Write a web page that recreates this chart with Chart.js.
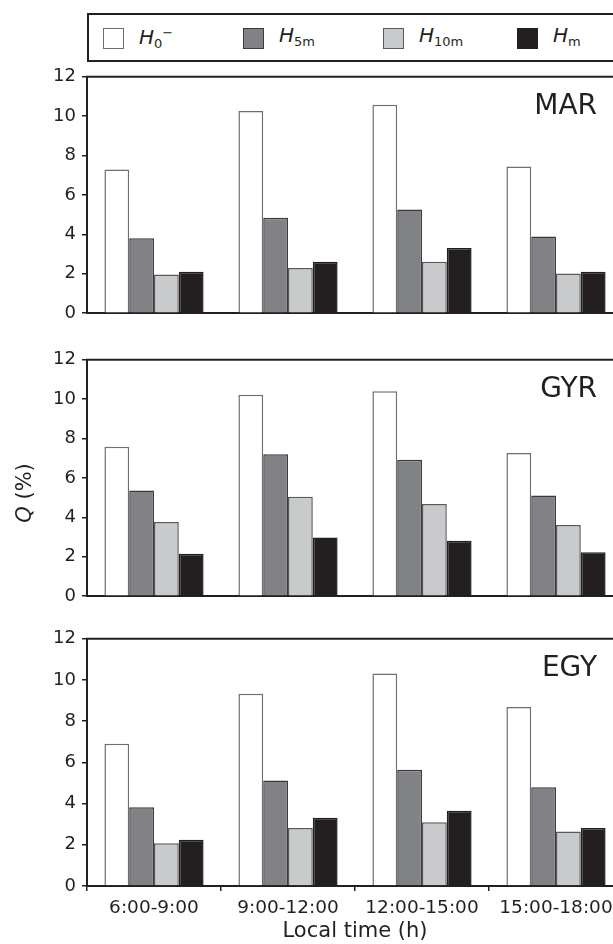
<!DOCTYPE html>
<html>
<head>
<meta charset="utf-8">
<script src="https://cdn.jsdelivr.net/npm/chart.js@4.4.0/dist/chart.umd.min.js"></script>
<style>
  html, body { margin: 0; padding: 0; width: 613px; height: 944px; overflow: hidden; background: #fff; }
  body { position: relative; font-family: "DejaVu Sans", sans-serif; color: #231f20; }
  #legend { position: absolute; left: 87px; top: 13px; width: 600px; height: 49px;
            border: 2px solid #231f20; box-sizing: border-box; }
  .item { position: absolute; top: 12px; height: 22px; display: flex; align-items: center; }
  .sw { display: inline-block; width: 21px; height: 21px; box-sizing: border-box; border: 1.5px solid #555; margin-right: 15px; }
  .lb { font-size: 20px; line-height: 22px; white-space: nowrap; }
  .lb i { font-style: italic; }
  .lb sub { font-size: 13px; vertical-align: -4px; }
  .lb sup { font-size: 13px; vertical-align: 7px; }
  canvas { position: absolute; left: 0; }
</style>
</head>
<body>
<div id="legend">
  <div class="item" style="left:14px"><span class="sw" style="background:#ffffff;border-color:#6d6e71"></span><span class="lb"><i>H</i><sub>0</sub><sup>−</sup></span></div>
  <div class="item" style="left:154px"><span class="sw" style="background:#808285;border-color:#3b3b3d"></span><span class="lb"><i>H</i><sub>5m</sub></span></div>
  <div class="item" style="left:294px"><span class="sw" style="background:#c9cacc;border-color:#58595b"></span><span class="lb"><i>H</i><sub>10m</sub></span></div>
  <div class="item" style="left:428px"><span class="sw" style="background:#231f20;border-color:#231f20"></span><span class="lb"><i>H</i><sub>m</sub></span></div>
</div>
<canvas id="c1" width="640" height="270" style="top:60px"></canvas>
<canvas id="c2" width="640" height="270" style="top:343px"></canvas>
<canvas id="c3" width="640" height="322" style="top:622px"></canvas>
<script>
// time slots
const categories = ["6:00-9:00", "9:00-12:00", "12:00-15:00", "15:00-18:00"];
const seriesLabels = ["H0-", "H5m", "H10m", "Hm"];
const yTicks = [0, 2, 4, 6, 8, 10, 12];

// MAR
const marH0 = [7.3, 10.26, 10.58, 7.45];
const marH5m = [3.8, 4.84, 5.27, 3.89];
const marH10m = [1.97, 2.29, 2.61, 2.02];
const marHm = [2.1, 2.61, 3.31, 2.1];

// GYR
const gyrH0 = [7.58, 10.22, 10.4, 7.27];
const gyrH5m = [5.37, 7.21, 6.93, 5.11];
const gyrH10m = [3.77, 5.05, 4.68, 3.61];
const gyrHm = [2.16, 2.98, 2.81, 2.23];

// EGY
const egyH0 = [6.91, 9.33, 10.31, 8.69];
const egyH5m = [3.82, 5.12, 5.64, 4.79];
const egyH10m = [2.07, 2.81, 3.1, 2.64];
const egyHm = [2.25, 3.31, 3.65, 2.81];

const fills = ["#ffffff", "#808285", "#c9cacc", "#231f20"];
const edges = ["#6d6e71", "#3b3b3d", "#58595b", "#231f20"];
const ink = "#231f20";
const FONT = "DejaVu Sans";

// top frame line, panel name and the shared y title
const panelDecor = {
  id: "panelDecor",
  afterDraw(chart, args, opts) {
    const { ctx, chartArea: a } = chart;
    ctx.save();
    ctx.strokeStyle = ink;
    ctx.lineWidth = 2;
    ctx.beginPath();
    ctx.moveTo(a.left - 1, a.top);
    ctx.lineTo(a.right + 20, a.top);
    ctx.stroke();

    ctx.fillStyle = ink;
    ctx.font = "28px '" + FONT + "'";
    ctx.textAlign = "right";
    ctx.textBaseline = "alphabetic";
    ctx.fillText(opts.name, a.right - 26, a.top + 37);

    if (opts.yTitle) {
      ctx.translate(26, 150);
      ctx.rotate(-Math.PI / 2);
      ctx.textBaseline = "middle";
      ctx.textAlign = "left";
      const fi = "italic 21px '" + FONT + "'";
      const fn = "21px '" + FONT + "'";
      ctx.font = fi;
      const w1 = ctx.measureText("Q").width;
      ctx.font = fn;
      const w2 = ctx.measureText(" (%)").width;
      const x0 = -(w1 + w2) / 2;
      ctx.font = fi;
      ctx.fillText("Q", x0, 0);
      ctx.font = fn;
      ctx.fillText(" (%)", x0 + w1, 0);
    }
    ctx.restore();
  }
};

function makePanel(id, name, series, bottom, yTitle) {
  const xAxis = bottom ? {
    ticks: { color: ink, font: { family: FONT, size: 18.5 }, padding: 6, maxRotation: 0, autoSkip: false },
    grid: { offset: true, drawOnChartArea: false, drawTicks: true, tickLength: 5, color: ink, lineWidth: 1.5 },
    border: { display: true, color: ink, width: 2 },
    title: { display: true, text: "Local time (h)", color: ink, font: { family: FONT, size: 21 }, padding: { top: 0, bottom: 0 } },
    afterFit(s) { s.height = 58; }
  } : {
    ticks: { display: false },
    grid: { drawOnChartArea: false, drawTicks: false, color: ink },
    border: { display: true, color: ink, width: 2 },
    afterFit(s) { s.height = 7; }
  };

  new Chart(document.getElementById(id), {
    type: "bar",
    data: {
      labels: categories,
      datasets: series.map((d, i) => ({
        label: seriesLabels[i],
        data: d,
        backgroundColor: fills[i],
        borderColor: edges[i],
        borderWidth: 1.5,
        categoryPercentage: 0.74,
        barPercentage: 1.0
      }))
    },
    options: {
      responsive: false,
      animation: false,
      devicePixelRatio: 1,
      layout: { padding: { top: 15, right: 17, bottom: 0, left: 0 } },
      plugins: {
        legend: { display: false },
        tooltip: { enabled: false },
        panelDecor: { name: name, yTitle: yTitle }
      },
      scales: {
        x: xAxis,
        y: {
          min: 0,
          max: 12,
          afterBuildTicks(s) { s.ticks = yTicks.map(v => ({ value: v })); },
          ticks: { color: ink, font: { family: FONT, size: 18 }, padding: 6 },
          grid: { drawOnChartArea: false, drawTicks: true, tickLength: 5, color: ink, lineWidth: 1.5 },
          border: { display: true, color: ink, width: 2 },
          afterFit(s) { s.width = 87; }
        }
      }
    },
    plugins: [panelDecor]
  });
}

makePanel("c1", "MAR", [marH0, marH5m, marH10m, marHm], false, false);
makePanel("c2", "GYR", [gyrH0, gyrH5m, gyrH10m, gyrHm], false, true);
makePanel("c3", "EGY", [egyH0, egyH5m, egyH10m, egyHm], true, false);
</script>
</body>
</html>
